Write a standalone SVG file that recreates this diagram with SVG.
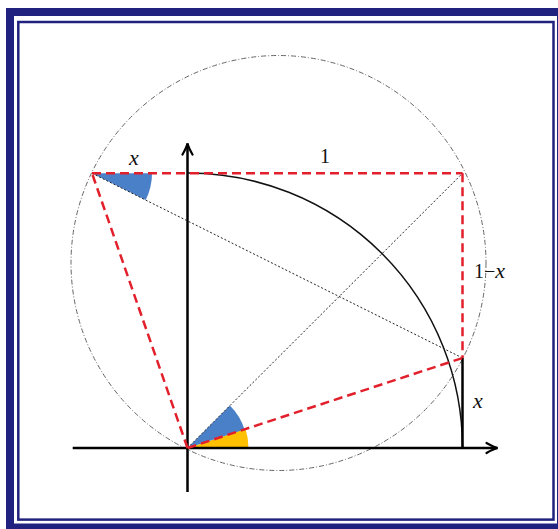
<svg xmlns="http://www.w3.org/2000/svg" width="558" height="529" viewBox="0 0 558 529">
<defs>
<style>
.frame{fill:none;stroke:#21227f}
.red{fill:none;stroke:#e2202c;stroke-width:2.5;stroke-dasharray:9 5}
.dot{fill:none;stroke:#222;stroke-width:1;stroke-dasharray:2 2}
.circ{fill:none;stroke:#666;stroke-width:1;stroke-dasharray:5 2 1 2}
.axis{fill:none;stroke:#000;stroke-width:2.5}
.lbl{font-family:"Liberation Serif","Times New Roman",serif;font-size:20px;fill:#111}
.it{font-style:italic;font-size:22px}
</style>
<marker id="arr" markerUnits="userSpaceOnUse" viewBox="-14 -7 16 14" markerWidth="16" markerHeight="14" refX="0" refY="0" orient="auto">
<path d="M-11 -5 Q-4 -1 0 0 Q-4 1 -11 5" fill="none" stroke="#000" stroke-width="2.2" stroke-linecap="round"/>
</marker>
</defs>
<rect width="558" height="529" fill="#fff"/>
<g id="frame">
<rect class="frame" x="10" y="12" width="551" height="515.5" stroke-width="8"/>
<rect class="frame" x="18.3" y="22" width="535.2" height="497.6" stroke-width="2.5"/>
</g>
<g id="circle">
<circle class="circ" cx="278.5" cy="263" r="207.5"/>
</g>
<g id="wedges">
<path d="M92 173.3 L152 173.3 A60 60 0 0 1 145.7 200.1 Z" fill="#4a80c8"/>
<path d="M187.5 448 L248.5 448 A61 61 0 0 0 245.5 429.05 Z" fill="#ffc000"/>
<path d="M187.5 448 L244.5 429.4 A60 60 0 0 0 229.9 405.6 Z" fill="#4a80c8"/>
</g>
<g id="axes">
<line class="axis" x1="72.7" y1="448" x2="497.5" y2="448" marker-end="url(#arr)"/>
<line class="axis" x1="187.5" y1="492" x2="187.5" y2="143.5" marker-end="url(#arr)"/>
</g>
<g id="connectors">
<path d="M187.5 173 A275 275 0 0 1 462.5 448" fill="none" stroke="#111" stroke-width="1.5"/>
<line x1="462.5" y1="358" x2="462.5" y2="448" stroke="#000" stroke-width="2.5"/>
<line class="dot" x1="92" y1="173.3" x2="462.5" y2="358"/>
<line class="dot" x1="187.5" y1="448" x2="462.5" y2="173.3"/>
<line class="red" x1="92" y1="173.3" x2="462.5" y2="173.3"/>
<line class="red" x1="462.5" y1="173.3" x2="462.5" y2="358"/>
<line class="red" x1="187.5" y1="448" x2="462.5" y2="358"/>
<line class="red" x1="187.5" y1="448" x2="92" y2="173.3"/>
</g>
<g id="labels">
<text class="lbl it" x="129" y="165">x</text>
<text class="lbl" x="320" y="163">1</text>
<text class="lbl" x="474" y="278">1−<tspan class="it">x</tspan></text>
<text class="lbl it" x="473" y="408">x</text>
</g>
</svg>
